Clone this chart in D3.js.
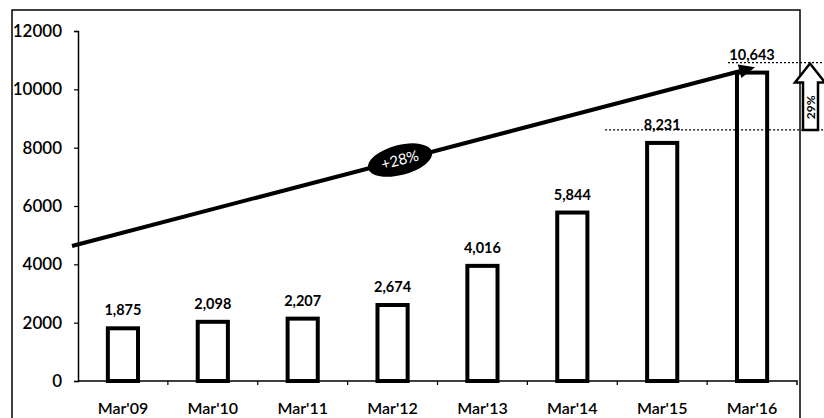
<!DOCTYPE html>
<html><head><meta charset="utf-8">
<script src="https://cdn.jsdelivr.net/npm/d3@7"></script>
<style>html,body{margin:0;padding:0;background:#fff;}svg{display:block;}</style>
</head><body>
<svg id="chart" width="824" height="418"></svg>
<script>
const categories = ["Mar'09","Mar'10","Mar'11","Mar'12","Mar'13","Mar'14","Mar'15","Mar'16"];
const values = [1875, 2098, 2207, 2674, 4016, 5844, 8231, 10643];
const yTicks = [0, 2000, 4000, 6000, 8000, 10000, 12000];
const trendValues = [4630, 10760];
const trendLabel = ["+28%"];
const growthLabel = ["29%"];
const growthFrom = ["Mar'15"];
const growthTo = ["Mar'16"];

const W = 824, H = 418;
const pLeft = 78, pRight = 797, pTop = 31, pBottom = 381;
const FONT = "Lato, 'Open Sans', sans-serif";
const svg = d3.select("#chart");

const x = d3.scaleBand().domain(categories).range([pLeft, pRight]).paddingInner(0.62).paddingOuter(0.31);
const y = d3.scaleLinear().domain([0, 12000]).range([pBottom, pTop]);

// outer frame
svg.append("rect").attr("x", 12).attr("y", 10).attr("width", 788).attr("height", 420)
  .attr("fill", "none").attr("stroke", "#000").attr("stroke-width", 1.5);

// Y axis
const yAxis = svg.append("g").attr("transform", `translate(${pLeft},0)`)
  .call(d3.axisLeft(y).tickValues(yTicks).tickFormat(d3.format("d")).tickSize(4).tickPadding(12));
yAxis.select(".domain").attr("stroke-width", 1.5);
yAxis.selectAll("line").attr("stroke-width", 1.2);
yAxis.selectAll("text").attr("font-family", FONT).attr("font-size", 17).attr("fill", "#000").attr("font-weight", 600);

// X axis
const xAxis = svg.append("g").attr("transform", `translate(0,${pBottom})`)
  .call(d3.axisBottom(x).tickSize(0).tickPadding(22));
xAxis.select(".domain").attr("stroke-width", 1.5).attr("d", `M${pLeft},0H${pRight}V4`);
xAxis.selectAll("text").attr("font-family", FONT).attr("font-size", 16).attr("fill", "#000").attr("font-weight", 600);
// band boundary ticks
const step = x.step();
const bounds = categories.map(c => x(c) - (step - x.bandwidth()) / 2).slice(1);
xAxis.selectAll(".btick").data(bounds).join("line").attr("class", "btick")
  .attr("x1", d => d).attr("x2", d => d).attr("y1", 0).attr("y2", 4)
  .attr("stroke", "#000").attr("stroke-width", 1.2);

// Bars
svg.append("g").selectAll("rect").data(values).join("rect")
  .attr("x", (d, i) => x(categories[i]) + 2)
  .attr("y", d => y(d) + 2)
  .attr("width", x.bandwidth() - 4)
  .attr("height", d => pBottom - y(d) - 2)
  .attr("fill", "#fff").attr("stroke", "#000").attr("stroke-width", 4);

// value labels
const fmt = d3.format(",");
svg.append("g").selectAll("text").data(values).join("text")
  .attr("x", (d, i) => x(categories[i]) + x.bandwidth() / 2)
  .attr("y", d => y(d) - 11)
  .attr("text-anchor", "middle")
  .attr("font-family", FONT).attr("font-size", 14.5).attr("font-weight", 700)
  .text(d => fmt(d));

// dotted reference lines for last two bars
const vFrom = values[categories.indexOf(growthFrom[0])];
const vTo = values[categories.indexOf(growthTo[0])];
svg.append("line").attr("x1", x(growthFrom[0]) - 40).attr("x2", W)
  .attr("y1", y(vFrom) - 11).attr("y2", y(vFrom) - 11)
  .attr("stroke", "#000").attr("stroke-width", 1.2).attr("stroke-dasharray", "2,2");
svg.append("line").attr("x1", x(growthTo[0]) - 7).attr("x2", W)
  .attr("y1", y(vTo) - 8).attr("y2", y(vTo) - 8)
  .attr("stroke", "#000").attr("stroke-width", 1.2).attr("stroke-dasharray", "2,2");

// up arrow with growth label
const aTop = y(vTo) - 7, aBot = y(vFrom) - 11, aHead = aTop + 19;
const cx = 810;
svg.append("path")
  .attr("d", `M${cx},${aTop} L${cx+15},${aHead} L${cx+8},${aHead} L${cx+8},${aBot} L${cx-7},${aBot} L${cx-7},${aHead} L${cx-15},${aHead} Z`)
  .attr("fill", "#fff").attr("stroke", "#000").attr("stroke-width", 2.5).attr("stroke-linejoin", "miter");
svg.append("text").attr("transform", `translate(${cx+5},${(aHead + aBot) / 2 + 1}) rotate(-90)`)
  .attr("text-anchor", "middle").attr("font-family", FONT).attr("font-size", 12).attr("font-weight", 700)
  .text(growthLabel[0]);

// Trend arrow
const x0 = pLeft - 6, y0 = y(trendValues[0]);
const x1 = x(categories[categories.length - 1]) + x.bandwidth() / 2 + 3, y1 = y(trendValues[1]);
const ang = Math.atan2(y1 - y0, x1 - x0);
const hl = 16, hw = 7;
const bx = x1 - hl * Math.cos(ang), by = y1 - hl * Math.sin(ang);
svg.append("line").attr("x1", x0).attr("y1", y0).attr("x2", bx).attr("y2", by)
  .attr("stroke", "#000").attr("stroke-width", 4);
svg.append("path")
  .attr("d", `M${x1},${y1} L${bx - hw * Math.sin(ang)},${by + hw * Math.cos(ang)} L${bx + hw * Math.sin(ang)},${by - hw * Math.cos(ang)} Z`)
  .attr("fill", "#000");

// ellipse label on trend
const ex = 400, ey = y0 + (ex - x0) * Math.tan(ang);
const deg = ang * 180 / Math.PI;
const eg = svg.append("g").attr("transform", `translate(${ex},${ey}) rotate(${deg})`);
eg.append("ellipse").attr("rx", 33).attr("ry", 15).attr("fill", "#000");
eg.append("text").attr("y", 5).attr("text-anchor", "middle").attr("fill", "#fff")
  .attr("font-family", FONT).attr("font-size", 15).text(trendLabel[0]);
</script>
</body></html>
